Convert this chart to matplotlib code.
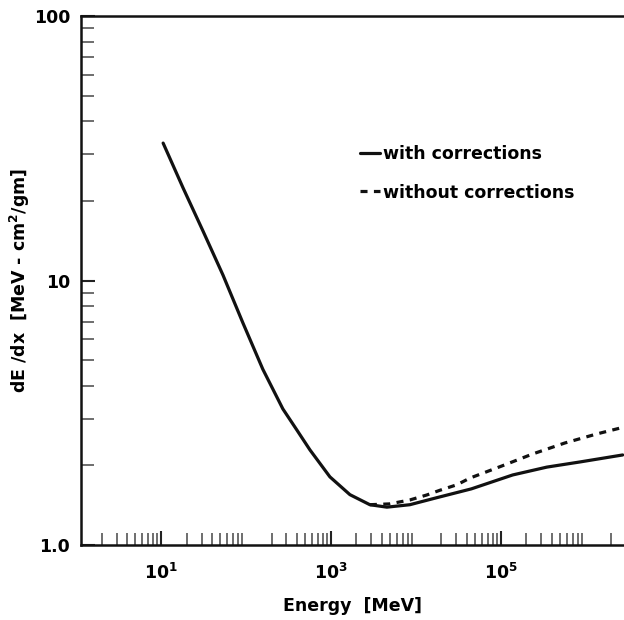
import numpy as np
import matplotlib
matplotlib.use('Agg')
import matplotlib.pyplot as plt
from matplotlib.ticker import LogLocator, NullFormatter

# values (E in MeV, dE/dx in MeV cm^2/gm)
energy_with = [10.6, 18.2, 31.2, 53.6, 92.2, 158, 272, 398, 566, 973, 1674,
               2875, 4560, 8500, 17700, 45000, 138000, 348000, 850000, 2720000]
dedx_with = [33.1, 22.4, 15.4, 10.5, 6.91, 4.62, 3.27, 2.72, 2.29, 1.81, 1.55,
             1.42, 1.39, 1.42, 1.51, 1.63, 1.84, 1.97, 2.06, 2.19]

energy_without = [2875, 4900, 8500, 13400, 19150, 30500, 43200, 103000,
                  238000, 566000, 1350000, 2800000]
dedx_without = [1.42, 1.43, 1.48, 1.545, 1.61, 1.69, 1.79, 1.99,
                2.21, 2.43, 2.63, 2.79]

xtick_vals = [1e1, 1e3, 1e5]
xtick_labels = ['$10^1$', '$10^3$', '$10^5$']
ytick_vals = [1, 10, 100]
ytick_labels = ['1.0', '10', '100']

plt.rcParams['font.family'] = 'DejaVu Sans'
plt.rcParams['font.weight'] = 'bold'
plt.rcParams['mathtext.default'] = 'bf'

fig = plt.figure(figsize=(6.24, 6.20), dpi=100)
ax = fig.add_axes([0.130, 0.121, 0.870, 0.853])

ax.plot(energy_with, dedx_with, color='#111111', lw=2.3,
        solid_capstyle='round', solid_joinstyle='round', label='with corrections')
ax.plot(energy_without, dedx_without, color='#111111', lw=2.3,
        dashes=(2.2, 2.0), label='without corrections')

ax.set_xscale('log')
ax.set_yscale('log')
ax.set_xlim(10**0.06, 10**6.45)
ax.set_ylim(1.0, 100)

ax.set_xticks(xtick_vals, xtick_labels)
ax.xaxis.set_minor_locator(LogLocator(base=10, subs=np.arange(2, 10), numticks=20))
ax.xaxis.set_minor_formatter(NullFormatter())
ax.set_yticks(ytick_vals, ytick_labels)
ax.yaxis.set_minor_locator(LogLocator(base=10, subs=np.arange(2, 10), numticks=20))
ax.yaxis.set_minor_formatter(NullFormatter())

ax.tick_params(which='major', direction='in', length=10, width=1.5,
               labelsize=12.5, color='#222222')
ax.tick_params(which='minor', direction='in', length=9, width=1.2,
               color='#555555')
ax.tick_params(axis='y', which='both', right=False)
ax.tick_params(axis='x', which='both', top=False)
ax.tick_params(axis='x', pad=13)
ax.tick_params(axis='y', pad=8)

for side in ['left', 'bottom', 'top']:
    ax.spines[side].set_linewidth(1.8)
    ax.spines[side].set_color('#111111')
ax.spines['right'].set_visible(False)

ax.set_xlabel('Energy  [MeV]', fontsize=12.5, fontweight='bold', labelpad=10)
ax.set_ylabel('dE /dx  [MeV - cm$^2$/gm]', fontsize=12.5, fontweight='bold',
              labelpad=1)

leg = ax.legend(loc='upper left', bbox_to_anchor=(0.50, 0.77), frameon=False,
                handlelength=1.2, handletextpad=0.15, labelspacing=1.2,
                borderaxespad=0, prop={'size': 12.5, 'weight': 'bold'})

fig.savefig('out.png', dpi=100)
